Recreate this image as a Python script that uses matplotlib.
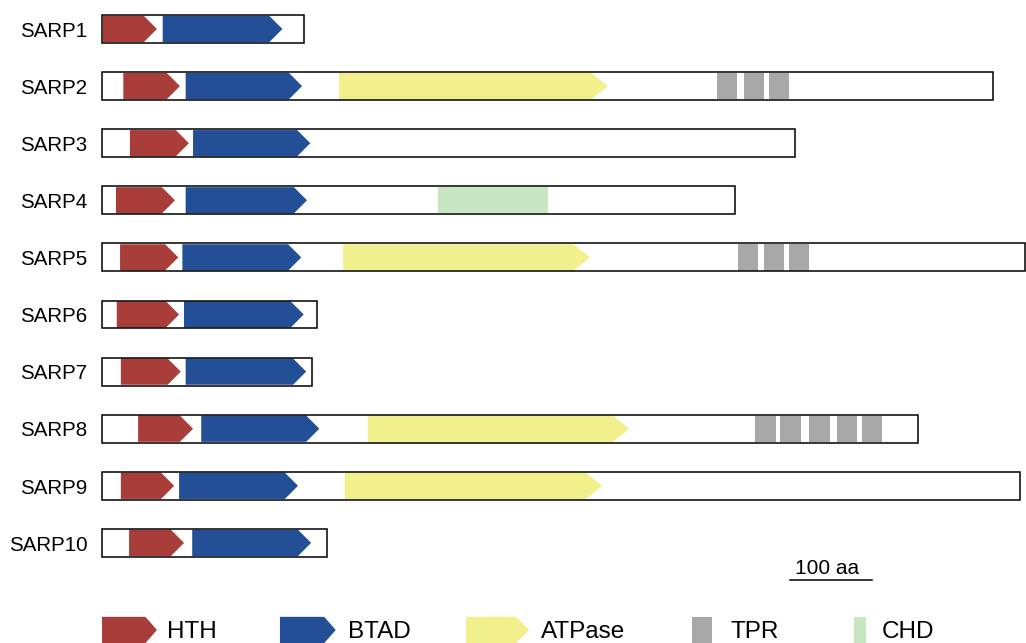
import matplotlib.pyplot as plt
from matplotlib.patches import Polygon, Rectangle

plt.rcParams['font.family'] = ['Liberation Sans', 'DejaVu Sans']

# Protein names and lengths (aa)
proteins = ["SARP1", "SARP2", "SARP3", "SARP4", "SARP5",
            "SARP6", "SARP7", "SARP8", "SARP9", "SARP10"]
lengths = [246, 1087, 845, 772, 1126, 262, 256, 995, 1119, 274]

# Domain spans (start, end) in aa for each protein
hth = [(1, 67), (26, 95), (34, 106), (17, 89), (22, 93),
       (18, 94), (23, 96), (44, 111), (23, 88), (33, 100)]
btad = [(74, 220), (102, 244), (111, 254), (102, 250), (98, 243),
        (100, 246), (102, 249), (121, 265), (94, 239), (110, 255)]
atpase = {1: (289, 617), 4: (294, 595), 7: (324, 643), 8: (296, 610)}
tpr = {
    1: [(750, 774), (783, 807), (813, 838)],
    4: [(776, 800), (807, 832), (838, 862)],
    7: [(796, 822), (827, 852), (862, 888), (896, 921), (927, 951)],
}
chd = {3: (410, 544)}

scale_len = 100  # aa

colors = {
    "HTH": "#a93d3a",
    "BTAD": "#234f96",
    "ATPase": "#f2f08c",
    "TPR": "#a7a8a7",
    "CHD": "#c9e6c3",
}

BOX_H = 0.245   # half height of the protein box (row units)
DOM_H = 0.23    # half height of a domain


def arrow(ax, x0, x1, y, color, head=16, h=DOM_H):
    pts = [(x0, y - h), (x1 - head, y - h), (x1, y),
           (x1 - head, y + h), (x0, y + h)]
    ax.add_patch(Polygon(pts, closed=True, facecolor=color,
                         edgecolor="none", zorder=2))


def block(ax, x0, x1, y, color, h=DOM_H):
    ax.add_patch(Rectangle((x0, y - h), x1 - x0, 2 * h, facecolor=color,
                           edgecolor="none", zorder=2))


fig = plt.figure(figsize=(10.26, 6.43), dpi=100)
ax = fig.add_axes([0, 0, 1, 1])
ax.set_xlim(-124.4, 1126.8)
ax.set_ylim(10.753, -0.508)
ax.axis("off")

for i, name in enumerate(proteins):
    ax.add_patch(Rectangle((0, i - BOX_H), lengths[i], 2 * BOX_H,
                           facecolor="none", edgecolor="black",
                           linewidth=1.1, zorder=3))
    ax.text(-18, i + 0.04, name, ha="right", va="center", fontsize=14.8)
    arrow(ax, *hth[i], i, colors["HTH"])
    arrow(ax, *btad[i], i, colors["BTAD"])
    if i in atpase:
        arrow(ax, *atpase[i], i, colors["ATPase"], head=20)
    for s, e in tpr.get(i, []):
        block(ax, s, e, i, colors["TPR"])
    if i in chd:
        block(ax, *chd[i], i, colors["CHD"])

# scale bar
ax.plot([839, 839 + scale_len], [9.65, 9.65], color="black", lw=1.1)
ax.text(839 + scale_len / 2 - 5, 9.44, f"{scale_len} aa",
        ha="center", va="center", fontsize=15)

# legend row
ly = 10.525
arrow(ax, 0, 67, ly, colors["HTH"], head=14)
arrow(ax, 217, 285, ly, colors["BTAD"], head=14)
arrow(ax, 444, 521, ly, colors["ATPase"], head=16)
block(ax, 719, 744, ly, colors["TPR"])
block(ax, 917, 932, ly, colors["CHD"])
for x, lab in [(79, "HTH"), (300, "BTAD"), (535, "ATPase"),
               (766, "TPR"), (951, "CHD")]:
    ax.text(x, ly + 0.03, lab, ha="left", va="center", fontsize=17.5)

plt.savefig("out.png", dpi=100)
